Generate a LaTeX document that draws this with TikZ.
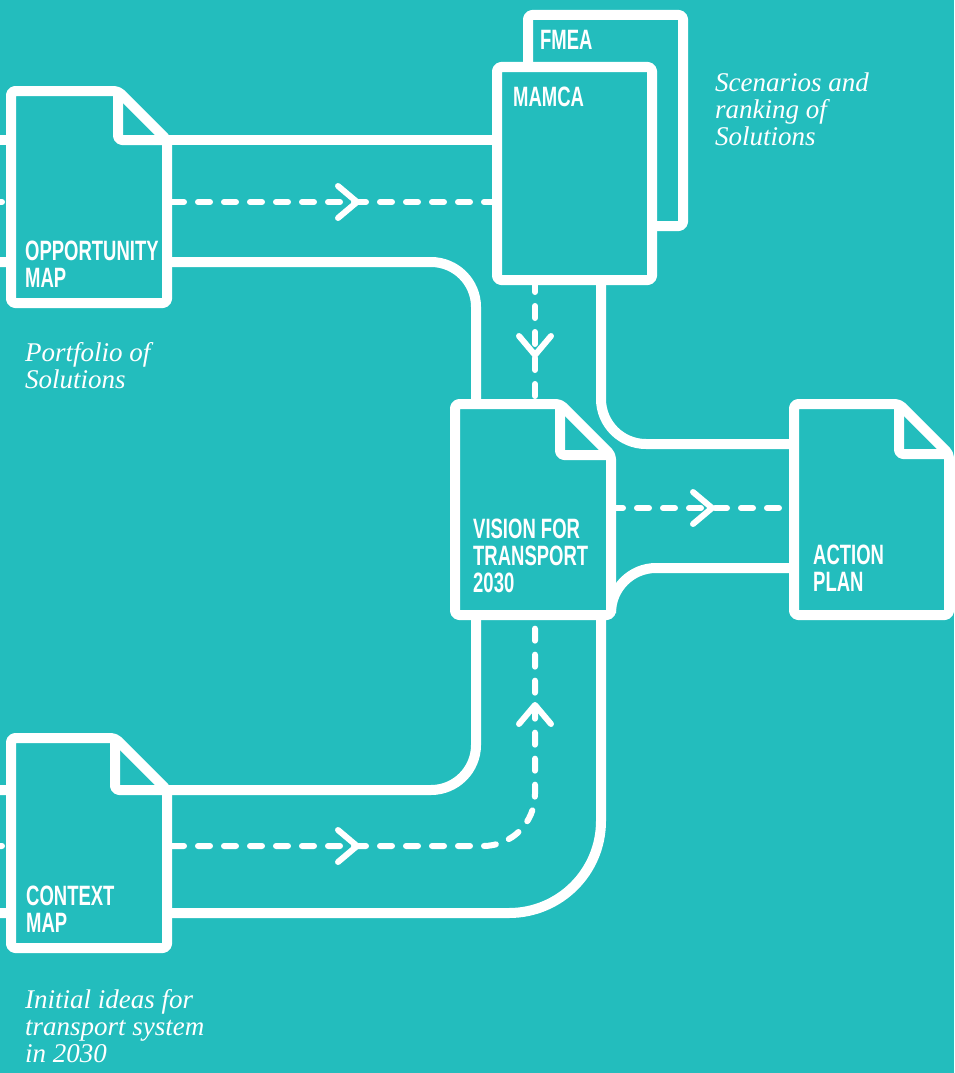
\documentclass[tikz,border=0pt]{standalone}
\usepackage{fontspec}
\setmainfont{Liberation Serif}
\newfontfamily\condfont[FakeStretch=0.66]{Liberation Sans}
\definecolor{bg}{RGB}{35,189,189}
\tikzset{
 pipe/.style={draw=white, line width=10pt},
 flow/.style={draw=white, line width=6pt, dash pattern=on 12pt off 14pt, line cap=round},
 chev/.style={draw=white, line width=6pt, line cap=round, line join=round},
 docst/.style={draw=white, fill=bg, line width=10pt, rounded corners=4pt, line join=round},
 foldst/.style={draw=white, line width=10pt, rounded corners=4pt, line join=round},
 lbl/.style={text=white, font=\condfont\bfseries\fontsize{28}{27}\selectfont, anchor=base west, align=left, inner sep=0pt},
 note/.style={text=white, font=\itshape\fontsize{27}{27}\selectfont, anchor=base west, align=left, inner sep=0pt},
}
% document with folded corner: x1 y1 x2 y2 fold
\newcommand\folddoc[5]{%
 \draw[docst] (#1,#2) -- (#3-#5,#2) -- (#3,#2+#5) -- (#3,#4) -- (#1,#4) -- cycle;
 \draw[foldst] (#3-#5,#2) -- (#3-#5,#2+#5) -- (#3,#2+#5);
}
\begin{document}
\begin{tikzpicture}[x=1pt,y=-1pt]
\useasboundingbox (0,0) rectangle (954,1073);
\fill[bg] (0,0) rectangle (954,1073);
\clip (0,0) rectangle (954,1073);

% named points
\coordinate (oppW1) at (-10,140);
\coordinate (oppW2) at (-10,202);
\coordinate (oppW3) at (-10,262);
\coordinate (mamW1) at (497,140);
\coordinate (mamW2) at (497,202);
\coordinate (mamS1) at (535,280);
\coordinate (mamS2) at (601,280);
\coordinate (visN1) at (476,404);
\coordinate (visN2) at (535,404);
\coordinate (visE1) at (611,508);
\coordinate (visE2) at (611,605);
\coordinate (visS1) at (476,615);
\coordinate (visS2) at (535,615);
\coordinate (visS3) at (601,615);
\coordinate (actW1) at (794,444);
\coordinate (actW2) at (794,508);
\coordinate (actW3) at (794,568);
\coordinate (ctxW1) at (-10,790);
\coordinate (ctxW2) at (-10,846);
\coordinate (ctxW3) at (-10,913);

% pipes
\draw[pipe] (oppW1) -- (mamW1);
\draw[pipe, rounded corners=45pt] (oppW3) -| (visN1);
\draw[pipe, rounded corners=45pt] (mamS2) |- (actW1);
\draw[pipe, rounded corners=45pt] (actW3) -| (visE2);
\draw[pipe, rounded corners=45pt] (ctxW1) -| (visS1);
\draw[pipe, rounded corners=92pt] (ctxW3) -| (visS3);

% flows
\draw[flow] (oppW2) -- (mamW2);
\draw[flow] (mamS1) -- (visN2);
\draw[flow] (visE1) -- (actW2);
\draw[flow, rounded corners=52pt] (ctxW2) -| (visS2);

% arrow heads
\draw[chev] (338,186) -- (357,202) -- (338,218);
\draw[chev] (519,336) -- (535,355) -- (551,336);
\draw[chev] (693,492) -- (712,508) -- (693,524);
\draw[chev] (338,830) -- (357,846) -- (338,862);
\draw[chev] (519,724) -- (535,705) -- (551,724);

% documents
\draw[docst] (528,15) rectangle (683,226);
\draw[docst] (497,67) rectangle (652,280);
\folddoc{11}{91}{167}{303}{49}
\folddoc{455}{404}{611}{615}{51}
\folddoc{794}{404}{949}{615}{50}
\folddoc{11}{738}{167}{948}{52}

% labels (anchor = baseline of last line)
\node[lbl] (oppL) at (25,287) {OPPORTUNITY\\MAP};
\node[lbl] (fmeaL) at (540,50) {FMEA};
\node[lbl] (mamcaL) at (513,106) {MAMCA};
\node[lbl] (visL) at (473,592) {VISION FOR\\TRANSPORT\\2030};
\node[lbl] (actL) at (813,591) {ACTION\\PLAN};
\node[lbl] (ctxL) at (26,932) {CONTEXT\\MAP};

\node[note] (oppN) at (25,388) {Portfolio of\\Solutions};
\node[note] (mamN) at (715,145) {Scenarios and\\ranking of\\Solutions};
\node[note] (ctxN) at (25,1062) {Initial ideas for\\transport system\\in 2030};
\end{tikzpicture}
\end{document}
